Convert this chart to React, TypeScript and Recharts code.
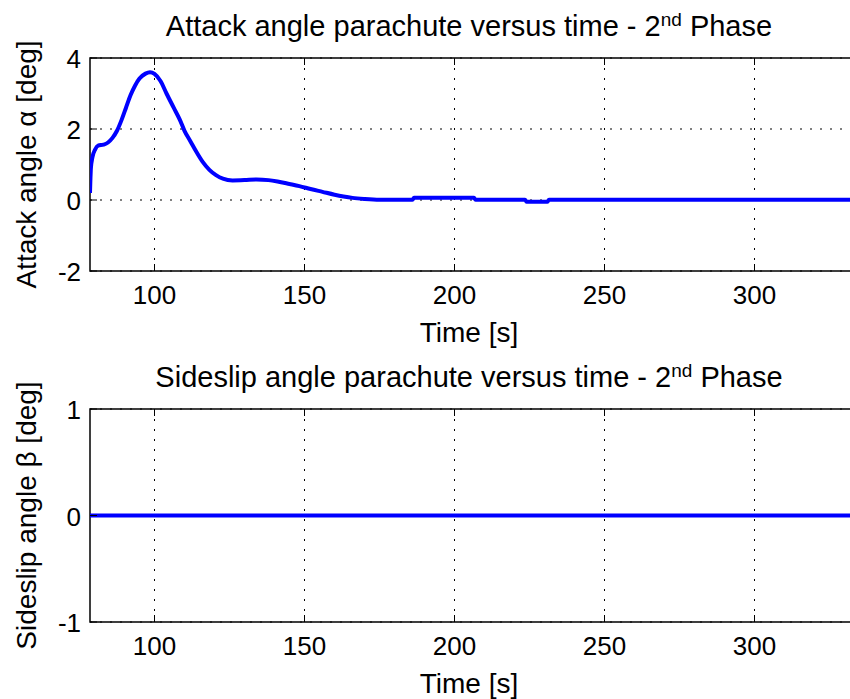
import { LineChart, Line, XAxis, YAxis, CartesianGrid, ReferenceArea } from 'recharts';

// attack angle alpha [deg] vs time [s]
const alphaTime = [78.5, 78.8, 79.3, 80.2, 81.2, 83.0, 84.5, 86.0, 87.5, 89.0, 90.5, 92.0, 93.5, 95.0, 97.0, 98.5, 100.0, 102.0, 104.0, 106.4, 108.5, 110.0, 112.0, 114.0, 116.0, 118.3, 120.5, 122.8, 126.0, 130.0, 134.0, 138.0, 141.0, 145.0, 148.3, 152.0, 156.0, 160.0, 163.0, 166.0, 170.0, 175.0, 186.0, 186.5, 206.5, 207.0, 223.5, 224.0, 231.0, 231.5, 333.5];
const alphaValue = [0.2, 0.9, 1.2, 1.42, 1.53, 1.56, 1.62, 1.75, 1.95, 2.25, 2.6, 2.95, 3.22, 3.42, 3.56, 3.6, 3.55, 3.35, 3.0, 2.6, 2.25, 1.95, 1.65, 1.35, 1.08, 0.85, 0.7, 0.6, 0.55, 0.56, 0.58, 0.56, 0.52, 0.45, 0.39, 0.31, 0.23, 0.15, 0.1, 0.06, 0.03, 0.01, 0.01, 0.06, 0.06, 0.01, 0.01, -0.05, -0.05, 0.01, 0.01];

// sideslip angle beta [deg] vs time [s]
const betaTime = [78.5, 100, 150, 200, 250, 300, 333.5];
const betaValue = [0, 0, 0, 0, 0, 0, 0];

const xTicks = [100, 150, 200, 250, 300];
const alphaTicks = [-2, 0, 2, 4];
const betaTicks = [-1, 0, 1];
const xDomain: [number, number] = [78.5, 333.5];

const alphaData = alphaTime.map((t, i) => ({ t, v: alphaValue[i] }));
const betaData = betaTime.map((t, i) => ({ t, v: betaValue[i] }));

const FONT = '"Liberation Sans", Arial, sans-serif';
const PLOT_TOP = 58;
const PLOT_BOTTOM = 271;
const PLOT_LEFT = 90;

function XTick(props: any) {
  const { x, y, payload } = props;
  return (
    <g>
      <line x1={x} x2={x} y1={y} y2={y - 7} stroke="#000" />
      <line x1={x} x2={x} y1={PLOT_TOP} y2={PLOT_TOP + 7} stroke="#000" />
      <text x={x} y={y + 33} textAnchor="middle" fontSize={26} fontFamily={FONT} fill="#000">
        {payload.value}
      </text>
    </g>
  );
}

function YTick(props: any) {
  const { x, y, payload } = props;
  return (
    <g>
      <line x1={x} x2={x + 7} y1={y} y2={y} stroke="#000" />
      <text x={x - 9} y={y + 10} textAnchor="end" fontSize={26} fontFamily={FONT} fill="#000">
        {payload.value}
      </text>
    </g>
  );
}

function Panel({ data, yDomain, yTicks, title, yLabel }: any) {
  return (
    <div style={{ position: 'relative', width: 870, height: 351 }}>
      <LineChart width={870} height={351} data={data} margin={{ top: PLOT_TOP, left: PLOT_LEFT - 60, right: 15, bottom: 40 }}>
        <CartesianGrid stroke="#000" strokeDasharray="2 8" horizontalValues={yTicks} verticalValues={xTicks} />
        <XAxis
          type="number"
          dataKey="t"
          domain={xDomain}
          ticks={xTicks}
          allowDataOverflow
          height={40}
          axisLine={false}
          tickLine={false}
          tickSize={0}
          tickMargin={0}
          tick={<XTick />}
        />
        <YAxis
          type="number"
          domain={yDomain}
          ticks={yTicks}
          allowDataOverflow
          width={60}
          axisLine={false}
          tickLine={false}
          tickSize={0}
          tickMargin={0}
          tick={<YTick />}
        />
        <ReferenceArea x1={xDomain[0]} x2={xDomain[1]} y1={yDomain[0]} y2={yDomain[1]} fill="none" stroke="#000" strokeWidth={1.5} />
        <Line type="monotone" dataKey="v" stroke="#0000ff" strokeWidth={4} dot={false} isAnimationActive={false} />
      </LineChart>
      <svg width={850} height={351} style={{ position: 'absolute', left: 0, top: 0, pointerEvents: 'none' }}>
        <text x={469} y={36} textAnchor="middle" fontSize={29} fontFamily={FONT} fill="#000">
          {title}
          <tspan dy={-10} fontSize={19}>nd</tspan>
          <tspan dy={10}> Phase</tspan>
        </text>
        <text x={469} y={342} textAnchor="middle" fontSize={28} fontFamily={FONT} fill="#000">
          Time [s]
        </text>
        <text
          transform={`translate(36, ${(PLOT_TOP + PLOT_BOTTOM) / 2}) rotate(-90)`}
          textAnchor="middle"
          fontSize={28}
          fontFamily={FONT}
          fill="#000"
        >
          {yLabel}
        </text>
      </svg>
    </div>
  );
}

export default function App() {
  return (
    <div style={{ position: 'absolute', left: 0, top: 0, width: 850, height: 699, overflow: 'hidden', background: '#fff' }}>
      <Panel
        data={alphaData}
        yDomain={[-2, 4]}
        yTicks={alphaTicks}
        title="Attack angle parachute versus time - 2"
        yLabel="Attack angle α [deg]"
      />
      <Panel
        data={betaData}
        yDomain={[-1, 1]}
        yTicks={betaTicks}
        title="Sideslip angle parachute versus time - 2"
        yLabel="Sideslip angle β [deg]"
      />
    </div>
  );
}
